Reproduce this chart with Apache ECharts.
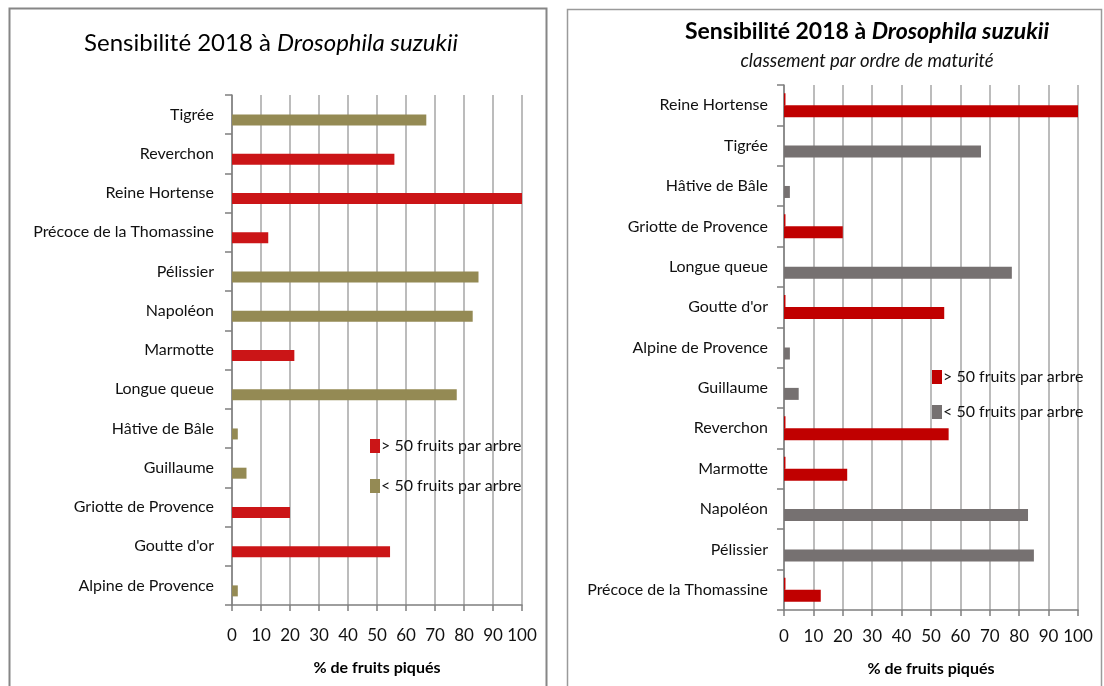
<!DOCTYPE html>
<html>
<head>
    <meta charset="utf-8">
    <title>Drosophila suzukii</title>
    <script src="https://cdn.jsdelivr.net/npm/echarts@6/dist/echarts.min.js"></script>
    <style>
        html, body { margin: 0; padding: 0; background: #fff; }
        #main { width: 1104px; height: 686px; }
    </style>
</head>
<body>
    <div id="main"></div>
    <script type="text/javascript">
        // variétés, dans l'ordre de maturité (graphique de droite)
        var varietes = ['Reine Hortense', 'Tigrée', 'Hâtive de Bâle', 'Griotte de Provence', 'Longue queue',
            "Goutte d'or", 'Alpine de Provence', 'Guillaume', 'Reverchon', 'Marmotte', 'Napoléon',
            'Pélissier', 'Précoce de la Thomassine'];
        // % de fruits piqués
        var piques = [100, 67, 2, 20, 77.5, 54.5, 2, 5, 56, 21.5, 83, 85, 12.5];
        // variétés avec > 50 fruits par arbre
        var plusDe50 = ['Reine Hortense', 'Griotte de Provence', "Goutte d'or", 'Reverchon', 'Marmotte',
            'Précoce de la Thomassine'];
        // ordre du graphique de gauche (de haut en bas)
        var ordreGauche = ['Tigrée', 'Reverchon', 'Reine Hortense', 'Précoce de la Thomassine', 'Pélissier',
            'Napoléon', 'Marmotte', 'Longue queue', 'Hâtive de Bâle', 'Guillaume', 'Griotte de Provence',
            "Goutte d'or", 'Alpine de Provence'];
        // petit trait rouge au-dessus des barres rouges (graphique de droite)
        var traitRouge = 0.5;
        var ticksX = [0, 10, 20, 30, 40, 50, 60, 70, 80, 90, 100];

        var nomPlus = '> 50 fruits par arbre';
        var nomMoins = '< 50 fruits par arbre';
        var police = 'Lato';

        function valeur(nom) {
            return piques[varietes.indexOf(nom)];
        }
        function serie(ordre, rouge) {
            return ordre.map(function (nom) {
                var r = plusDe50.indexOf(nom) >= 0;
                return r === rouge ? valeur(nom) : '-';
            });
        }

        var myChart = echarts.init(document.getElementById('main'));

        function axeX(grid, labelSize, margin) {
            return {
                type: 'value', gridIndex: grid, min: 0, max: 100, interval: 10,
                name: '% de fruits piqués', nameLocation: 'middle', nameGap: margin + 33,
                nameTextStyle: { fontFamily: police, fontWeight: 'bold', fontSize: 16, color: '#000' },
                axisLine: { show: true, lineStyle: { color: '#7f7f7f', width: 1.5 } },
                axisTick: { show: true, length: 6, lineStyle: { color: '#7f7f7f', width: 1.5 } },
                splitLine: { show: true, lineStyle: { color: '#a6a6a6', width: 1.5 } },
                axisLabel: { fontFamily: police, fontSize: labelSize, color: '#111', margin: margin,
                    formatter: function (v) { return ticksX.indexOf(v) >= 0 ? String(v) : ''; } }
            };
        }
        function axeY(grid, ordre, margin) {
            return {
                type: 'category', gridIndex: grid, data: ordre, inverse: true, position: 'left',
                axisLine: { show: true, onZero: false, lineStyle: { color: '#7f7f7f', width: 1.5 } },
                axisTick: { show: true, inside: false, length: 7, interval: 0,
                    lineStyle: { color: '#7f7f7f', width: 1.5 } },
                axisLabel: { fontFamily: police, fontSize: 16, color: '#111', margin: margin, interval: 0 },
                splitLine: { show: false }
            };
        }

        var option = {
            backgroundColor: '#fff',
            animation: false,
            title: [
                {
                    text: '{n|Sensibilité 2018 à }{i|Drosophila suzukii}',
                    left: 266, top: 26, textAlign: 'center',
                    textStyle: { rich: {
                        n: { fontFamily: police, fontSize: 24, fontWeight: 'normal', color: '#000' },
                        i: { fontFamily: police, fontSize: 24, fontWeight: 'normal', fontStyle: 'italic', color: '#000' }
                    } }
                },
                {
                    text: '{n|Sensibilité 2018 à }{i|Drosophila suzukii}',
                    left: 862, top: 15, textAlign: 'center',
                    subtext: 'classement par ordre de maturité', itemGap: 9,
                    textStyle: { rich: {
                        n: { fontFamily: police, fontSize: 23, fontWeight: 'bold', color: '#000' },
                        i: { fontFamily: police, fontSize: 23, fontWeight: 'bold', fontStyle: 'italic', color: '#000' }
                    } },
                    subtextStyle: { fontFamily: police, fontSize: 18.5, fontStyle: 'italic', color: '#111' }
                }
            ],
            legend: [
                {
                    orient: 'vertical', left: 365, top: 433, itemWidth: 10, itemHeight: 14, itemGap: 24,
                    icon: 'rect',
                    textStyle: { fontFamily: police, fontSize: 16, color: '#111', lineHeight: 16, padding: [0, 0, 0, -4] },
                    data: [{ name: nomPlus, itemStyle: { color: '#cb1517' } },
                        { name: nomMoins, itemStyle: { color: '#948a54' } }]
                },
                {
                    orient: 'vertical', left: 927, top: 364, itemWidth: 10, itemHeight: 14, itemGap: 19,
                    icon: 'rect',
                    textStyle: { fontFamily: police, fontSize: 16, color: '#111', lineHeight: 16, padding: [0, 0, 0, -4] },
                    data: [{ name: nomPlus, itemStyle: { color: '#c00000' } },
                        { name: nomMoins, itemStyle: { color: '#767171' } }]
                }
            ],
            grid: [
                { left: 232, top: 95, width: 290, height: 510 },
                { left: 784, top: 85, width: 294, height: 525 }
            ],
            xAxis: [axeX(0, 17, 22), axeX(1, 17, 18)],
            yAxis: [axeY(0, ordreGauche, 18), axeY(1, varietes, 16)],
            series: [
                // graphique de gauche
                { name: 'espace', type: 'bar', xAxisIndex: 0, yAxisIndex: 0, barWidth: 11, barGap: '0%',
                    data: [], legendHoverLink: false },
                { name: nomPlus, type: 'bar', xAxisIndex: 0, yAxisIndex: 0, stack: 'g', barWidth: 11,
                    itemStyle: { color: '#cb1517' }, data: serie(ordreGauche, true) },
                { name: nomMoins, type: 'bar', xAxisIndex: 0, yAxisIndex: 0, stack: 'g', barWidth: 11,
                    itemStyle: { color: '#948a54' }, data: serie(ordreGauche, false) },
                // graphique de droite
                { name: 'trait', type: 'bar', xAxisIndex: 1, yAxisIndex: 1, barWidth: 12, barGap: '0%',
                    itemStyle: { color: '#c00000' },
                    data: varietes.map(function (nom) { return plusDe50.indexOf(nom) >= 0 ? traitRouge : '-'; }) },
                { name: nomPlus, type: 'bar', xAxisIndex: 1, yAxisIndex: 1, stack: 'd', barWidth: 12,
                    itemStyle: { color: '#c00000' }, data: serie(varietes, true) },
                { name: nomMoins, type: 'bar', xAxisIndex: 1, yAxisIndex: 1, stack: 'd', barWidth: 12,
                    itemStyle: { color: '#767171' }, data: serie(varietes, false) }
            ],
            graphic: [
                { type: 'rect', shape: { x: 9.5, y: 8.5, width: 537, height: 700 }, silent: true,
                    style: { fill: null, stroke: '#868686', lineWidth: 2 } },
                { type: 'rect', shape: { x: 567.5, y: 9.5, width: 534, height: 700 }, silent: true,
                    style: { fill: null, stroke: '#9a9a9a', lineWidth: 1.5 } }
            ]
        };

        myChart.setOption(option);
    </script>
</body>
</html>
